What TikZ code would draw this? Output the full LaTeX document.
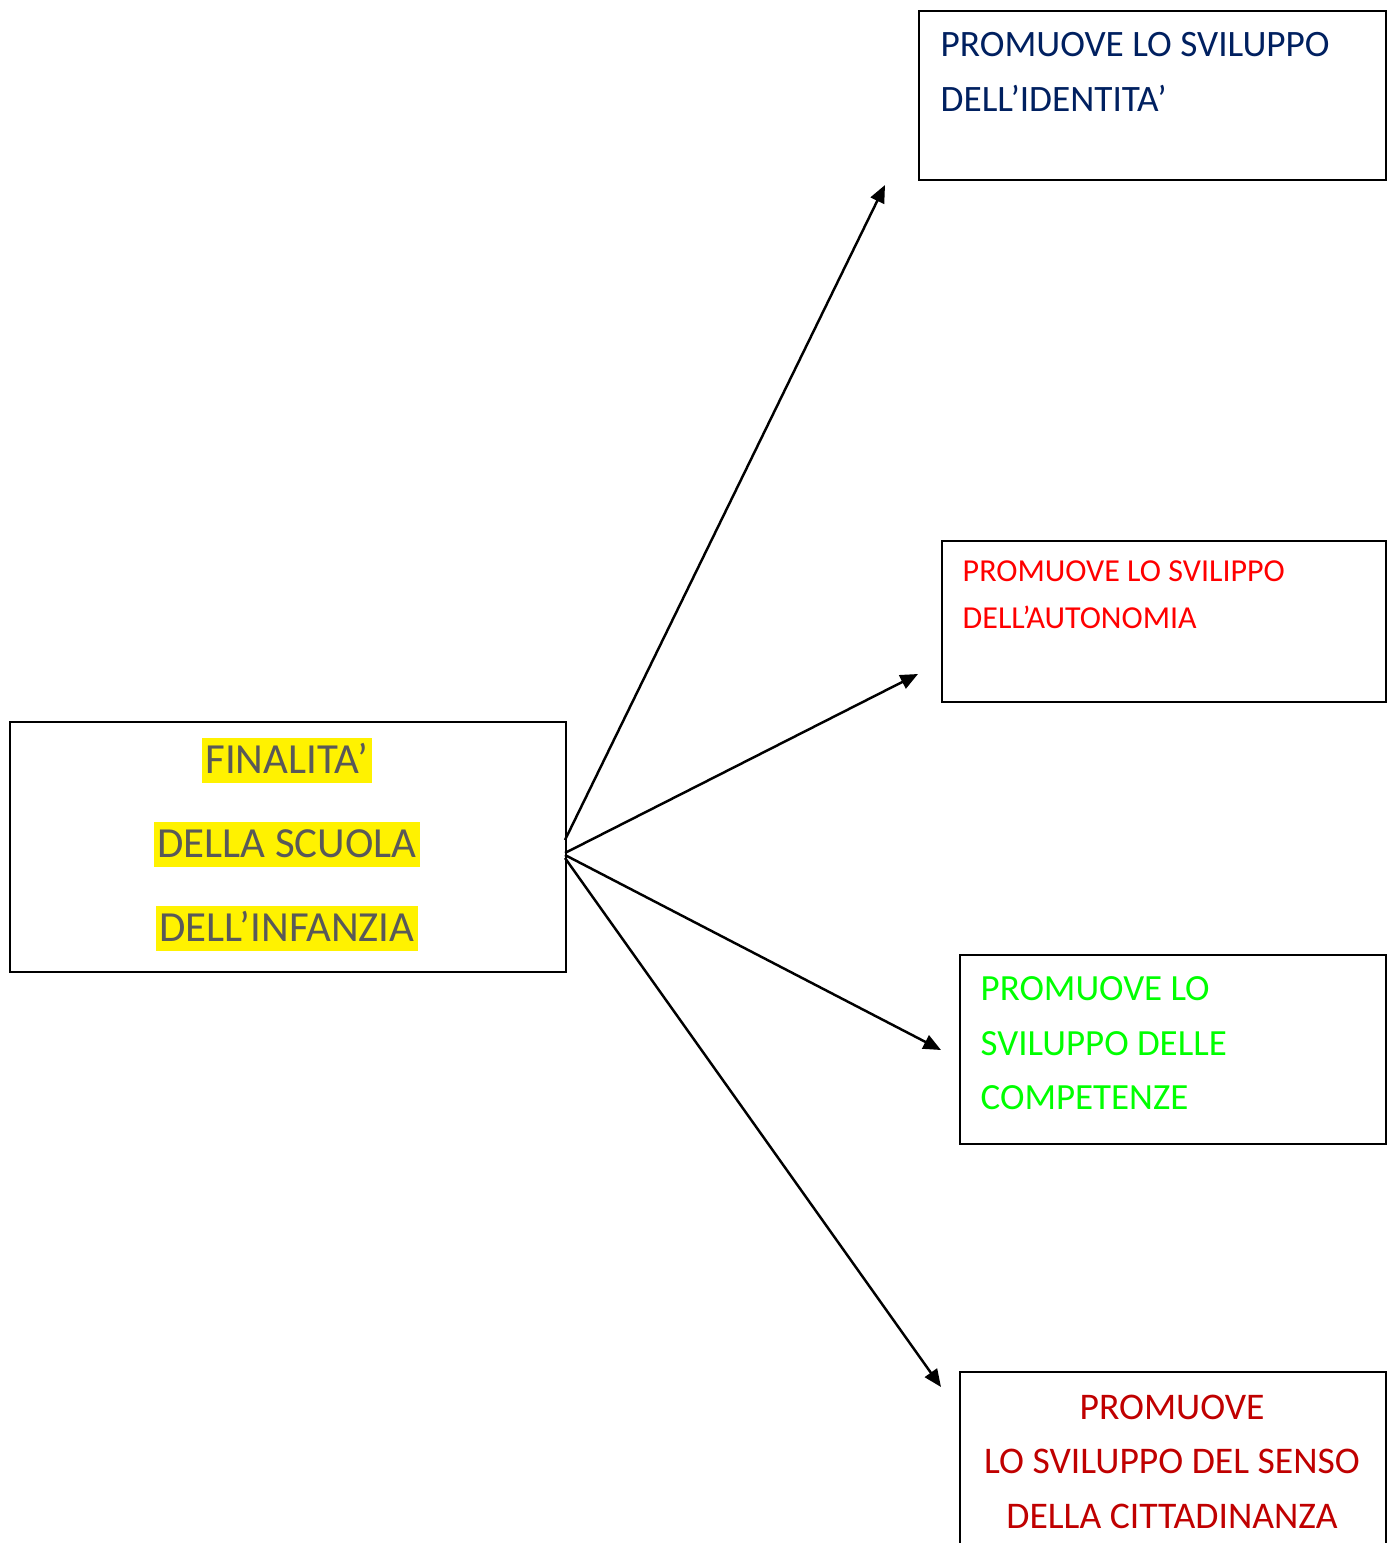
\documentclass[tikz,border=0pt]{standalone}
\usepackage{fontspec}
\setmainfont{Carlito}
\usepackage{xcolor}
\usetikzlibrary{positioning,arrows.meta}
\definecolor{navy}{HTML}{002060}
\definecolor{darkred}{HTML}{C00000}
\definecolor{hlgray}{HTML}{595959}

\begin{document}
\begin{tikzpicture}[x=0.01cm,y=-0.01cm,>={Triangle[length=5pt,width=4.2pt]},
  box/.style={draw,line width=0.6pt,inner sep=0pt,anchor=north west},
  hl/.style={fill=yellow,text=hlgray,inner xsep=1pt,inner ysep=0pt,text height=1.0em,text depth=0.29em,anchor=base,font=\fontsize{12.2}{14}\selectfont},
  lbl/.style={inner sep=0pt,anchor=north west,align=left}]
\clip (0,0) rectangle (1394,1543);
\fill[white] (0,0) rectangle (1394,1543);
% boxes
\node[box,minimum width=5.56cm,minimum height=2.5cm] (fin) at (9,721) {};
\node[box,minimum width=4.67cm,minimum height=1.69cm] (ident) at (918,10) {};
\node[box,minimum width=4.44cm,minimum height=1.61cm] (auton) at (941,540) {};
\node[box,minimum width=4.26cm,minimum height=1.89cm] (compet) at (959,954) {};
\node[box,minimum width=4.26cm,minimum height=2.0cm] (citt) at (959,1371) {};
% texts
\node[hl] (fin1) at (287,773) {FINALITA’};
\node[hl] (fin2) at (287,857) {DELLA SCUOLA};
\node[hl] (fin3) at (287,941) {DELL’INFANZIA};
\node[lbl,text=navy,font=\fontsize{10.6}{15.4}\selectfont] (identtxt) at (940,32) {PROMUOVE LO SVILUPPO\\DELL’IDENTITA’};
\node[lbl,text=red,font=\fontsize{9.1}{13.4}\selectfont] (autontxt) at (962,560) {PROMUOVE LO SVILIPPO\\DELL’AUTONOMIA};
\node[lbl,text=green,font=\fontsize{10.5}{15.5}\selectfont] (compettxt) at (980,976) {PROMUOVE LO\\SVILUPPO DELLE\\COMPETENZE};
\node[lbl,anchor=north,align=center,text=darkred,font=\fontsize{10.7}{15.5}\selectfont] (citttxt) at (1172,1394) {PROMUOVE\\LO SVILUPPO DEL SENSO\\DELLA CITTADINANZA};
% arrows
\coordinate (s1) at (565,840);
\coordinate (s2) at (565,853);
\coordinate (s3) at (565,855);
\coordinate (s4) at (565,858);
\coordinate (e1) at (885,185);
\coordinate (e2) at (918,674);
\coordinate (e3) at (941,1050);
\coordinate (e4) at (941,1387);
\foreach \i in {1,...,4}
  \draw[->,line width=0.7pt] (s\i) -- (e\i);
\end{tikzpicture}
\end{document}
